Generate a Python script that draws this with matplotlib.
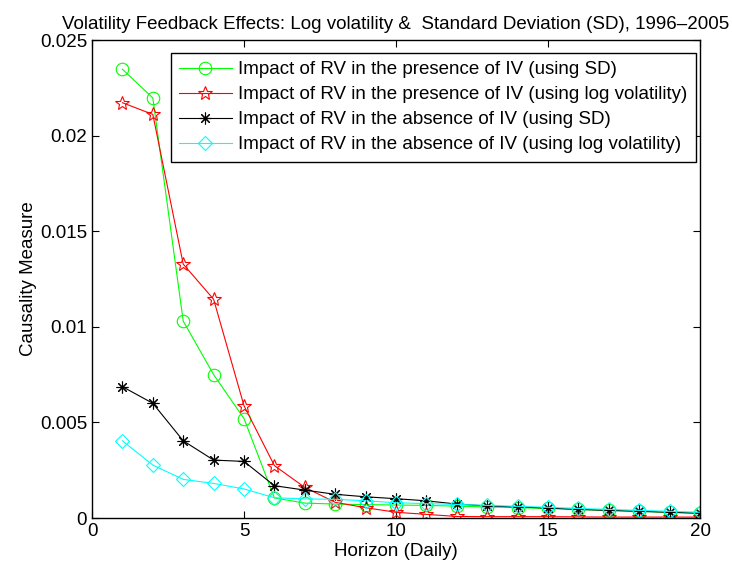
import matplotlib
matplotlib.use("Agg")
import matplotlib.pyplot as plt
import numpy as np

plt.rcParams['font.family'] = ['Liberation Sans', 'DejaVu Sans']

# horizons 1..20 (daily)
horizon = np.arange(1, 21)

# causality measures
rv_iv_sd = [0.02347, 0.02197, 0.01030, 0.00750, 0.00520, 0.00105, 0.00078, 0.00073, 0.00070, 0.00068,
            0.00066, 0.00062, 0.00058, 0.00054, 0.00050, 0.00045, 0.00040, 0.00035, 0.00030, 0.00025]
rv_iv_log = [0.02172, 0.02111, 0.01328, 0.01144, 0.00587, 0.00274, 0.00160, 0.00082, 0.00054, 0.00030,
             0.00019, 0.00008, 0.00007, 0.00007, 0.00007, 0.00006, 0.00005, 0.00005, 0.00005, 0.00005]
rv_sd = [0.00687, 0.00600, 0.00404, 0.00303, 0.00296, 0.00169, 0.00146, 0.00124, 0.00111, 0.00101,
         0.00090, 0.00073, 0.00063, 0.00058, 0.00052, 0.00045, 0.00040, 0.00035, 0.00030, 0.00025]
rv_log = [0.00404, 0.00277, 0.00202, 0.00181, 0.00152, 0.00106, 0.00100, 0.00098, 0.00090, 0.00080,
          0.00075, 0.00071, 0.00066, 0.00061, 0.00056, 0.00050, 0.00045, 0.00040, 0.00035, 0.00030]

labels = [
    "Impact of RV in the presence of IV (using SD)",
    "Impact of RV in the presence of IV (using log volatility)",
    "Impact of RV in the absence of IV (using SD)",
    "Impact of RV in the absence of IV (using log volatility)",
]

fs = 13.5

fig = plt.figure(figsize=(7.32, 5.70), dpi=100)
ax = fig.add_axes([0.1257, 0.0912, 0.9563 - 0.1257, 0.9298 - 0.0912])

lw = 0.8
ax.plot(horizon, rv_iv_sd, color=(0, 1, 0), lw=lw, marker='o', ms=9, mfc='none', mew=0.8, label=labels[0])
ax.plot(horizon, rv_iv_log, color=(1, 0, 0), lw=lw, marker='*', ms=10.5, mfc='none', mew=0.8, label=labels[1])
ax.plot(horizon, rv_sd, color='k', lw=lw, marker=(8, 2, 0), ms=8.5, mew=0.8, label=labels[2])
ax.plot(horizon, rv_log, color=(0, 1, 1), lw=lw, marker='D', ms=7, mfc='none', mew=0.8, label=labels[3])

ax.set_xlim(0, 20)
ax.set_ylim(0, 0.025)
ax.set_xticks([0, 5, 10, 15, 20])
ax.set_yticks([0, 0.005, 0.01, 0.015, 0.02, 0.025])
ax.set_yticklabels(["0", "0.005", "0.01", "0.015", "0.02", "0.025"])
ax.tick_params(direction='in', top=True, right=True, length=5, labelsize=fs, width=0.8)
for s in ax.spines.values():
    s.set_linewidth(1.0)

ax.set_title("Volatility Feedback Effects: Log volatility &  Standard Deviation (SD), 1996\u20132005",
             fontsize=fs, pad=8)
ax.set_xlabel("Horizon (Daily)", fontsize=fs, labelpad=2)
ax.set_ylabel("Causality Measure", fontsize=fs, labelpad=2)

leg = ax.legend(loc='upper right', bbox_to_anchor=(0.993, 0.973), fontsize=fs, fancybox=False,
                framealpha=1, edgecolor='k', handlelength=2.8, borderpad=0.45, labelspacing=0.42,
                handletextpad=0.35, borderaxespad=0)
leg.get_frame().set_linewidth(1.0)

plt.savefig("out.png", dpi=100)
